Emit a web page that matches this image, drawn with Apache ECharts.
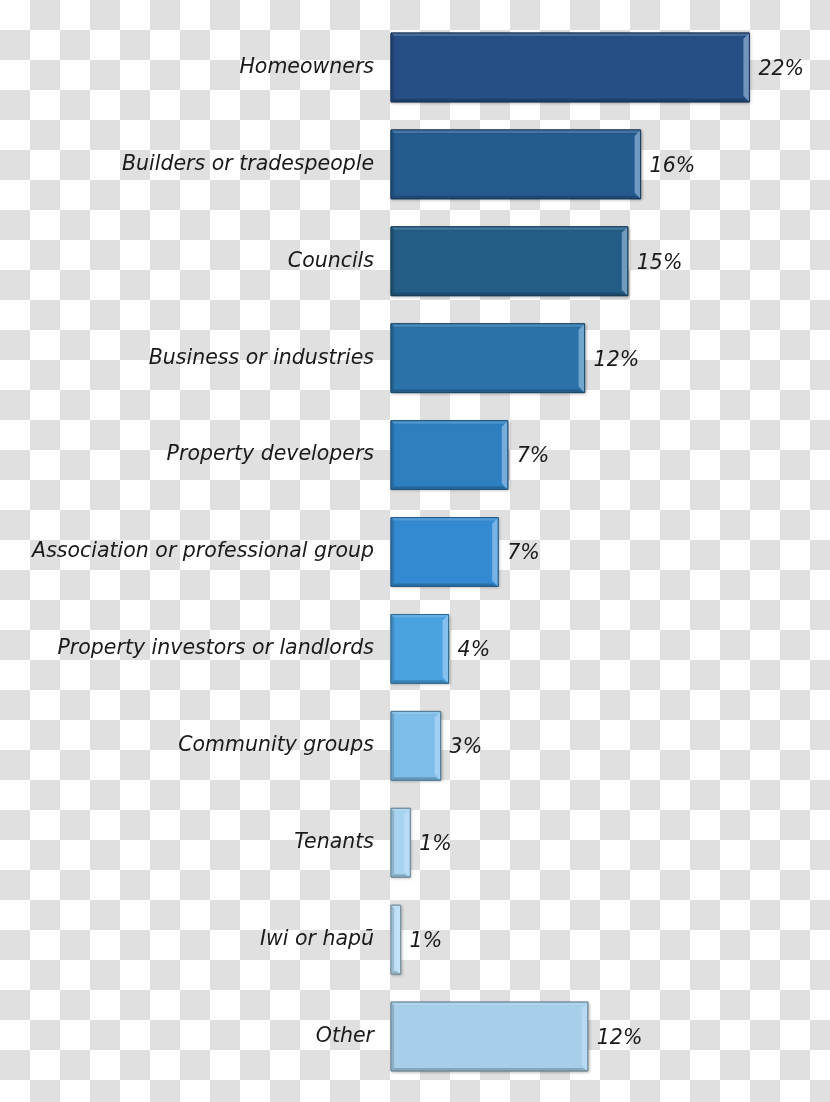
<!DOCTYPE html>
<html>
<head>
<meta charset="utf-8">
<script src="https://cdn.jsdelivr.net/npm/echarts@6/dist/echarts.min.js"></script>
<style>
  html, body { margin: 0; padding: 0; }
  body {
    width: 830px; height: 1102px;
    background-color: #ffffff;
    background-image: conic-gradient(#e0e0e0 25%, #ffffff 0 50%, #e0e0e0 0 75%, #ffffff 0);
    background-size: 60px 60px;
  }
  #chart { width: 830px; height: 1102px; }
</style>
</head>
<body>
<div id="chart"></div>
<script>
// Categories (top to bottom)
const categories = [
  'Homeowners',
  'Builders or tradespeople',
  'Councils',
  'Business or industries',
  'Property developers',
  'Association or professional group',
  'Property investors or landlords',
  'Community groups',
  'Tenants',
  'Iwi or hapū',
  'Other'
];
// Share of responses, % (labels show rounded %)
const shares = [22.4, 15.6, 14.8, 12.1, 7.3, 6.7, 3.6, 3.1, 1.2, 0.6, 12.3];
// Bar fill colours
const barColors = [
  '#264f85', '#245a8e', '#235d85', '#2a72a8', '#2e7fbf', '#348ad0',
  '#4aa2e0', '#7cbde9', '#a6d3ef', '#b9def5', '#a7cfe9'
];

const FONT = '"DejaVu Sans", "Noto Sans", sans-serif';

function mix(hex, target, amt) {
  const n = parseInt(hex.slice(1), 16);
  const r = (n >> 16) & 255, g = (n >> 8) & 255, b = n & 255;
  return 'rgb(' + Math.round(r + (target[0] - r) * amt) + ',' +
    Math.round(g + (target[1] - g) * amt) + ',' + Math.round(b + (target[2] - b) * amt) + ')';
}
const dark = (c, a) => mix(c, [0, 0, 0], a);
const light = (c, a) => mix(c, [205, 230, 255], a);

const chart = echarts.init(document.getElementById('chart'), null, { renderer: 'canvas' });

const option = {
  backgroundColor: 'transparent',
  animation: false,
  grid: { left: 391, right: 7, top: 19, bottom: 17, containLabel: false },
  xAxis: {
    type: 'value', min: 0, max: 27,
    show: false
  },
  yAxis: {
    type: 'category',
    data: categories,
    inverse: true,
    axisLine: { show: false },
    axisTick: { show: false },
    splitLine: { show: false },
    axisLabel: {
      margin: 17,
      padding: [4, 0, 0, 0],
      fontFamily: FONT,
      fontStyle: 'italic',
      fontSize: 20.5,
      color: '#1a1a1a'
    }
  },
  series: [{
    type: 'custom',
    data: shares.map((v, i) => [v, i]),
    encode: { x: 0, y: 1 },
    renderItem: function (params, api) {
      const v = api.value(0);
      const idx = api.value(1);
      const p0 = api.coord([0, idx]);
      const p1 = api.coord([v, idx]);
      const band = api.size([0, 1])[1];
      const h = band * 0.71;
      const x0 = p0[0], x1 = p1[0];
      const y0 = p0[1] - h / 2, y1 = p0[1] + h / 2;
      const w = x1 - x0;
      const c = barColors[idx];
      const b = Math.min(6, w / 2);
      const bt = Math.min(3, w / 2);
      return {
        type: 'group',
        children: [
          { type: 'rect', shape: { x: x0, y: y0, width: w, height: h },
            style: { fill: c, stroke: dark(c, 0.35), lineWidth: 1,
                     shadowBlur: 3, shadowColor: 'rgba(0,0,0,0.25)', shadowOffsetX: 1, shadowOffsetY: 1 } },
          // top bevel (light)
          { type: 'polygon', shape: { points: [[x0, y0], [x1, y0], [x1 - bt, y0 + bt], [x0 + bt, y0 + bt]] },
            style: { fill: light(c, 0.2) } },
          // left bevel (dark)
          { type: 'polygon', shape: { points: [[x0, y0], [x0 + bt, y0 + bt], [x0 + bt, y1 - bt], [x0, y1]] },
            style: { fill: dark(c, 0.15) } },
          // bottom bevel (dark)
          { type: 'polygon', shape: { points: [[x0, y1], [x0 + bt, y1 - bt], [x1 - b, y1 - bt], [x1, y1]] },
            style: { fill: dark(c, 0.2) } },
          // right bevel (light)
          { type: 'polygon', shape: { points: [[x1 - b, y0 + b], [x1, y0], [x1, y1], [x1 - b, y1 - b]] },
            style: { fill: light(c, 0.45) } },
          { type: 'rect', shape: { x: x0, y: y0, width: w, height: h },
            style: { fill: 'none', stroke: dark(c, 0.35), lineWidth: 1 } },
          // value label
          { type: 'text',
            x: x1 + 9, y: p0[1] + 2,
            style: { text: Math.round(v) + '%', fill: '#1a1a1a', font: 'italic 20.5px ' + FONT,
                     verticalAlign: 'middle', align: 'left' } }
        ]
      };
    }
  }]
};
chart.setOption(option);
</script>
</body>
</html>
